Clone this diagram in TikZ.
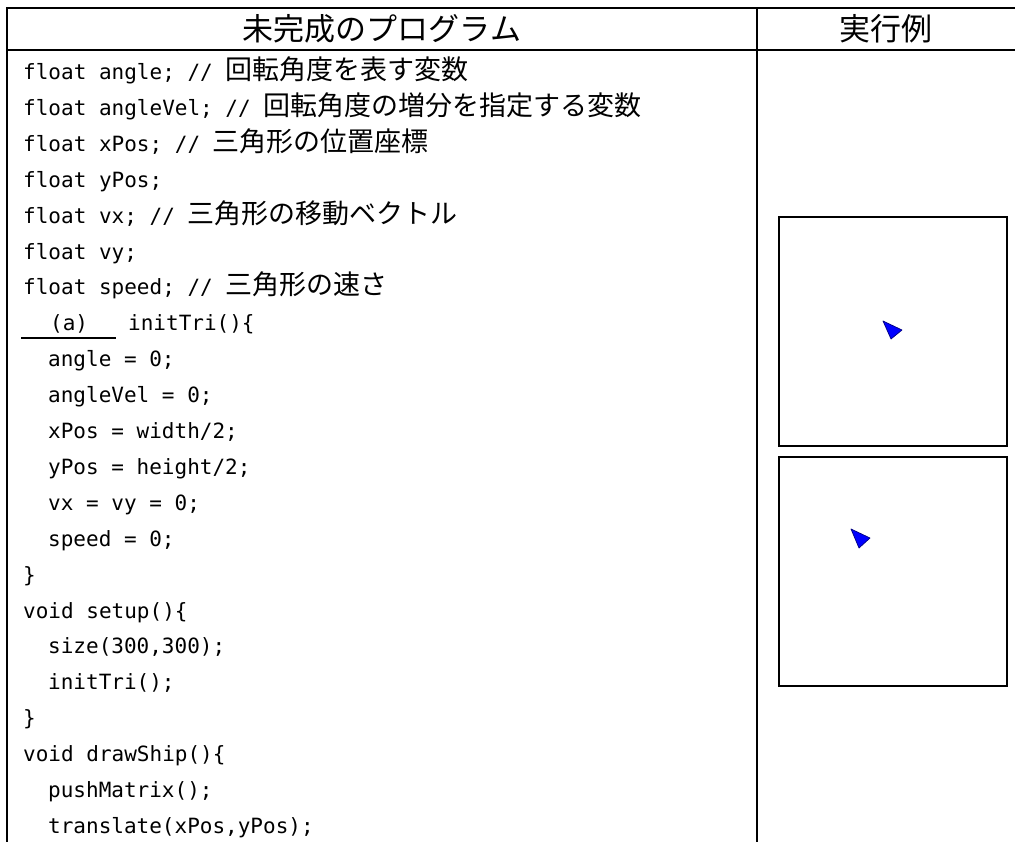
\documentclass[tikz,border=0pt]{standalone}
\usepackage{fontspec}
\setmainfont{Noto Sans CJK JP}
\setmonofont{DejaVu Sans Mono}
\newfontfamily\jpfont{Noto Sans CJK JP}
\newcommand{\cmt}[1]{{\jpfont\fontsize{27}{27}\selectfont #1}}
\tikzset{
  code/.style={anchor=base west,inner sep=0pt,font=\ttfamily\fontsize{21}{21}\selectfont},
  head/.style={inner sep=0pt,font=\fontsize{31}{31}\selectfont},
  frame/.style={line width=2.5pt},
  screen/.style={draw,line width=1.6pt},
  ship/.style={fill=blue,draw=blue!50!black,line width=0.7pt,line join=round}
}

\begin{document}
\begin{tikzpicture}[x=1pt,y=-1pt]
\useasboundingbox (0,0) rectangle (1015,841);
\fill[white] (0,0) rectangle (1015,841);
% table
\draw[frame] (1020,8) -- (7,8) -- (7,846);
\draw[frame] (7,50) -- (1020,50);
\draw[frame] (757,8) -- (757,846);
\node[head] (title) at (382,29) {未完成のプログラム};
\node[head] (run) at (886,29) {実行例};
% program
\node[code] (l1) at (23,79) {float angle; // \cmt{回転角度を表す変数}};
\node[code] (l2) at (23,115) {float angleVel; // \cmt{回転角度の増分を指定する変数}};
\node[code] (l3) at (23,151) {float xPos; // \cmt{三角形の位置座標}};
\node[code] (l4) at (23,187) {float yPos;};
\node[code] (l5) at (23,223) {float vx; // \cmt{三角形の移動ベクトル}};
\node[code] (l6) at (23,259) {float vy;};
\node[code] (l7) at (23,294) {float speed; // \cmt{三角形の速さ}};
\node[code] (blank) at (50,330) {(a)};
\node[code] (l8) at (128,330) {initTri()\{};
\coordinate (ulL) at (21,338);
\coordinate (ulR) at (116,338);
\draw[line width=1.2pt] (ulL) -- (ulR);
\node[code] (l9) at (48,366) {angle = 0;};
\node[code] (l10) at (48,402) {angleVel = 0;};
\node[code] (l11) at (48,438) {xPos = width/2;};
\node[code] (l12) at (48,474) {yPos = height/2;};
\node[code] (l13) at (48,510) {vx = vy = 0;};
\node[code] (l14) at (48,546) {speed = 0;};
\node[code] (l15) at (23,582) {\}};
\node[code] (l16) at (23,618) {void setup()\{};
\node[code] (l17) at (48,653) {size(300,300);};
\node[code] (l18) at (48,689) {initTri();};
\node[code] (l19) at (23,725) {\}};
\node[code] (l20) at (23,761) {void drawShip()\{};
\node[code] (l21) at (48,797) {pushMatrix();};
\node[code] (l22) at (48,833) {translate(xPos,yPos);};
% run example
\draw[screen] (779,217) rectangle (1007,446);
\draw[screen] (779,457) rectangle (1007,686);
\draw[ship] (883,321) -- (902,330) -- (891,339) -- cycle;
\draw[ship] (851,529) -- (870,538) -- (859,548) -- cycle;
\end{tikzpicture}
\end{document}
